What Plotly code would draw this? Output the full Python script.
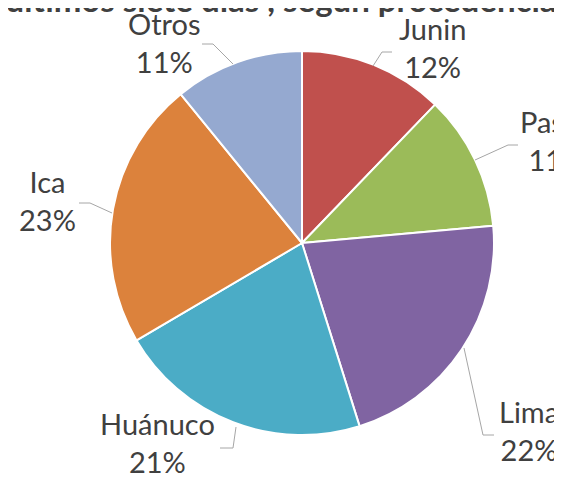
import plotly.graph_objects as go

# ---- data ----
labels = ["Junin", "Pasco", "Lima", "Huánuco", "Ica", "Otros"]
values = [12.2, 11.4, 21.6, 21.4, 22.6, 10.9]
colors = ["#C0504D", "#9BBB59", "#8064A2", "#4BACC6", "#DC823C", "#95A9D0"]
title_text = "Casos de los últimos siete días , según procedencia"

# ---- layout constants (page pixels) ----
W, H = 562, 481
OFF = 8  # page body margin
label_pos = {  # block centre of each data label
    "Junin": (432, 47), "Pasco": (557, 140), "Lima": (529, 430),
    "Huánuco": (158, 442), "Ica": (47, 200), "Otros": (164, 42),
}
leaders = {
    "Junin": [(373, 66), (382, 52), (392, 52)],
    "Pasco": [(475, 160), (508, 145), (518, 145)],
    "Lima": [(464, 348), (483, 435), (494, 435)],
    "Huánuco": [(236, 427), (233, 448), (220, 448)],
    "Ica": [(112, 213), (90, 203), (79, 203)],
    "Otros": [(233, 64), (213, 44), (202, 44)],
}


def px(x):
    return (x - OFF) / W


def py(y):
    return 1 - (y - OFF) / H


fig = go.Figure(go.Pie(
    labels=labels, values=values, sort=False, direction="clockwise",
    rotation=0, textinfo="none", hoverinfo="label+percent",
    marker=dict(colors=colors, line=dict(color="white", width=2)),
    domain=dict(x=[px(110), px(494)], y=[py(436), py(50)]),
    showlegend=False,
))

total = sum(values)
annotations = []
for lab, v in zip(labels, values):
    cx, cy = label_pos[lab]
    annotations.append(dict(
        x=px(cx), y=py(cy), xref="paper", yref="paper",
        text=f"{lab}<br>{round(v / total * 100)}%", showarrow=False,
        xanchor="center", yanchor="middle", align="center",
        font=dict(family="Lato", size=29, color="#404040"),
    ))
annotations.append(dict(
    x=px(559), y=py(-1), xref="paper", yref="paper", text=f"<b>{title_text}</b>",
    showarrow=False, xanchor="right", yanchor="middle",
    font=dict(family="Lato", size=33, color="#404040"),
))

shapes = []
for lab, pts in leaders.items():
    path = "M " + " L ".join(f"{px(x)},{py(y)}" for x, y in pts)
    shapes.append(dict(type="path", path=path, xref="paper", yref="paper",
                       line=dict(color="#A6A6A6", width=1)))

fig.update_layout(
    width=W, height=H, margin=dict(l=0, r=0, t=0, b=0),
    paper_bgcolor="white", plot_bgcolor="white",
    annotations=annotations, shapes=shapes,
)

fig.write_html("out.html")
